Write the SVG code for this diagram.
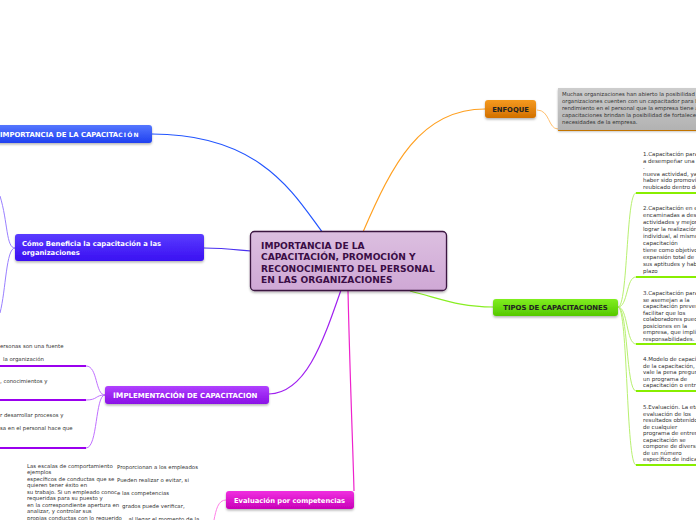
<svg xmlns="http://www.w3.org/2000/svg" width="696" height="520" viewBox="0 0 696 520">
<defs>
<style>
.nt{font-family:"DejaVu Sans",Verdana,sans-serif;font-weight:bold;}
.sm{font-family:"DejaVu Sans",Verdana,sans-serif;font-size:5.4px;fill:#333;}
.rc{font-size:5.5px;}
.c{fill:none;stroke-width:1.2;}
.ul{stroke-width:2.2;fill:none;}
</style>
<linearGradient id="gCenter" x1="0" y1="0" x2="0" y2="1"><stop offset="0" stop-color="#dcbfe0"/><stop offset="1" stop-color="#cfa8d5"/></linearGradient>
<linearGradient id="gBlue" x1="0" y1="0" x2="0" y2="1"><stop offset="0" stop-color="#5577ff"/><stop offset="1" stop-color="#1f40f0"/></linearGradient>
<linearGradient id="gIndigo" x1="0" y1="0" x2="0" y2="1"><stop offset="0" stop-color="#5a3cff"/><stop offset="1" stop-color="#3a10f2"/></linearGradient>
<linearGradient id="gPurple" x1="0" y1="0" x2="0" y2="1"><stop offset="0" stop-color="#b040ff"/><stop offset="1" stop-color="#8a10e6"/></linearGradient>
<linearGradient id="gMag" x1="0" y1="0" x2="0" y2="1"><stop offset="0" stop-color="#f030e0"/><stop offset="1" stop-color="#c800b8"/></linearGradient>
<linearGradient id="gOrange" x1="0" y1="0" x2="0" y2="1"><stop offset="0" stop-color="#f59a20"/><stop offset="1" stop-color="#d27000"/></linearGradient>
<linearGradient id="gGreen" x1="0" y1="0" x2="0" y2="1"><stop offset="0" stop-color="#80ee20"/><stop offset="1" stop-color="#55c800"/></linearGradient>
<linearGradient id="gGray" x1="0" y1="0" x2="0" y2="1"><stop offset="0" stop-color="#cdcdcd"/><stop offset="1" stop-color="#b2b2b2"/></linearGradient>
<filter id="sh" x="-10%" y="-20%" width="120%" height="160%"><feDropShadow dx="0" dy="1.5" stdDeviation="1" flood-color="#000" flood-opacity="0.3"/></filter>
</defs>
<rect width="696" height="520" fill="#ffffff"/>

<g id="connectors">
<path class="c" stroke="#2255ff" d="M152,134 C262,134 295,196 323,233"/>
<path class="c" stroke="#4a30f0" d="M204,248 C226,248 238,250 251,251"/>
<path class="c" stroke="#a020f0" d="M341,290 C322,345 305,393 269,394"/>
<path class="c" stroke="#ee22cc" d="M348,291 C350,380 353,450 354,491"/>
<path class="c" stroke="#ffa020" d="M363,232 C392,165 420,109 485,109"/>
<path class="c" stroke="#88ee22" d="M410,291 C445,300 460,307 493,307"/>
<path fill="none" stroke="#ffc070" stroke-width="1" d="M537,110 C550,110 548,129 558,129"/>
<path fill="none" stroke="#9a80ff" stroke-width="1" d="M15,248 C6,248 8,222 0,196 M15,248 C6,248 6,290 0,313"/>
<path fill="none" stroke="#c070ff" stroke-width="1" d="M105,395 C95,395 98,366 86,366 M105,395 C95,395 98,400 86,400 M105,395 C95,395 98,448 86,448"/>
<path fill="none" stroke="#ff80e8" stroke-width="1" d="M226,500 C218,500 216,510 214,520"/>
<path fill="none" stroke="#b8f070" stroke-width="1" d="M618,307 C628,307 626,193 636,193 M618,307 C628,307 626,277 636,277 M618,307 C628,307 626,344 636,344 M618,307 C628,307 626,391 636,391 M618,307 C628,307 626,465 636,465"/>
<path class="ul" stroke="#9a00ee" d="M0,366 H86 M0,400 H86 M0,448 H86"/>
<path class="ul" stroke="#88ee00" d="M636,193 H696 M636,277 H696 M636,344 H696 M636,391 H696 M636,465 H696"/>
<path class="ul" stroke="#ff9900" d="M558,130 H696"/>
</g>

<g id="center">
<rect x="250.5" y="231.5" width="196" height="59" rx="4" fill="url(#gCenter)" stroke="#3a1440" stroke-width="1.3" filter="url(#sh)"/>
<text class="nt" font-size="9.1" fill="#3a0d45"><tspan x="261" y="248.5">IMPORTANCIA DE LA</tspan><tspan x="261" y="260">CAPACITACIÓN, PROMOCIÓN Y</tspan><tspan x="261" y="271.5">RECONOCIMIENTO DEL PERSONAL</tspan><tspan x="261" y="283">EN LAS ORGANIZACIONES</tspan></text>
</g>

<g id="importancia">
<rect x="-5" y="125" width="157" height="18" rx="3" fill="url(#gBlue)" filter="url(#sh)"/>
<text class="nt" x="0" y="136.5" font-size="6.9" fill="#fff">IMPORTANCIA DE LA CAPACITA<tspan font-size="6" letter-spacing="1.2">CIÓN</tspan></text>
</g>

<g id="beneficia">
<rect x="15" y="234" width="189" height="27" rx="3" fill="url(#gIndigo)" filter="url(#sh)"/>
<text class="nt" font-size="6.8" fill="#fff"><tspan x="22" y="246">Cómo Beneficia la capacitación a las</tspan><tspan x="22" y="254.5">organizaciones</tspan></text>
</g>

<g id="implementacion">
<rect x="105" y="386" width="164" height="18" rx="3" fill="url(#gPurple)" filter="url(#sh)"/>
<text class="nt" x="113" y="397.5" font-size="7" fill="#fff"><tspan font-size="7.6">IM</tspan>PLEMENTACIÓN DE CAPACITACION</text>
</g>
<g id="implementacion-notas">
<text class="sm"><tspan x="0" y="348">ersonas son una fuente</tspan><tspan x="3" y="360.5">la organización</tspan></text>
<text class="sm" x="0" y="382.5">, conocimientos y</text>
<text class="sm"><tspan x="0" y="416.5">r desarrollar procesos y</tspan><tspan x="0" y="429.5">sa en el personal hace que</tspan></text>
</g>

<g id="evaluacion">
<rect x="226" y="491" width="128" height="18" rx="3" fill="url(#gMag)" filter="url(#sh)"/>
<text class="nt" x="234" y="502.5" font-size="6.75" fill="#fff">Evaluación por competencias</text>
</g>
<g id="evaluacion-notas">
<text class="sm" font-size="5.6"><tspan x="27" y="467.5">Las escalas de comportamiento</tspan><tspan x="27" y="474">ejemplos</tspan><tspan x="27" y="480.5">específicos de conductas que se</tspan><tspan x="27" y="487">quieren tener éxito en</tspan><tspan x="27" y="493.5">su trabajo. Si un empleado conoc</tspan><tspan x="27" y="500">requeridas para su puesto y</tspan><tspan x="27" y="506.5">en la correspondiente apertura en</tspan><tspan x="27" y="513">analizar, y controlar sus</tspan><tspan x="27" y="519.5">propias conductas con lo requerido</tspan></text>
<text class="sm" font-size="5.6"><tspan x="117" y="468.5">Proporcionan a los empleados</tspan><tspan x="117" y="481.5">Pueden realizar o evitar, si</tspan><tspan x="117" y="494.5">e las competencias</tspan><tspan x="122" y="507.5">grados puede verificar,</tspan><tspan x="125" y="520.5">, al llegar el momento de la</tspan></text>
</g>

<g id="enfoque">
<rect x="485" y="100" width="51" height="18" rx="3" fill="url(#gOrange)" filter="url(#sh)"/>
<text class="nt" x="510.5" y="111.5" font-size="6.8" fill="#222" text-anchor="middle">ENFOQUE</text>
</g>
<g id="enfoque-nota">
<rect x="558" y="88" width="140" height="42" fill="url(#gGray)" filter="url(#sh)"/>
<text class="sm" font-size="4.75" fill="#222"><tspan x="562" y="95.5">Muchas organizaciones han abierto la posibilidad c</tspan><tspan x="562" y="102.5">organizaciones cuenten con un capacitador para b</tspan><tspan x="562" y="109.5">rendimiento en el personal que la empresa tiene a</tspan><tspan x="562" y="116.5">capacitaciones brindan la posibilidad de fortalecer</tspan><tspan x="562" y="123.5">necesidades de la empresa.</tspan></text>
</g>

<g id="tipos">
<rect x="493" y="299" width="125" height="17" rx="3" fill="url(#gGreen)" filter="url(#sh)"/>
<text class="nt" x="555.5" y="310" font-size="6.9" fill="#222" text-anchor="middle">TIPOS DE CAPACITACIONES</text>
</g>
<g id="tipos-notas">
<text class="sm rc"><tspan x="643" y="156">1.Capacitación para</tspan><tspan x="643" y="162.5">a desempeñar una</tspan><tspan x="643" y="169">.</tspan><tspan x="643" y="175.5">nueva actividad, ya</tspan><tspan x="643" y="182">haber sido promovi</tspan><tspan x="643" y="188.5">reubicado dentro de</tspan></text>
<text class="sm rc"><tspan x="643" y="210">2.Capacitación en el</tspan><tspan x="643" y="217">encaminadas a desa</tspan><tspan x="643" y="224">actividades y mejora</tspan><tspan x="643" y="231">lograr la realización</tspan><tspan x="643" y="238">individual, al mismo</tspan><tspan x="643" y="245">capacitación</tspan><tspan x="643" y="252">tiene como objetivo</tspan><tspan x="643" y="259">expansión total de</tspan><tspan x="643" y="266">sus aptitudes y habil</tspan><tspan x="643" y="273">plazo</tspan></text>
<text class="sm rc"><tspan x="643" y="295">3.Capacitación para</tspan><tspan x="643" y="301.5">se asemejan a la</tspan><tspan x="643" y="308">capacitación preven</tspan><tspan x="643" y="314.5">facilitar que los</tspan><tspan x="643" y="321">colaboradores pued</tspan><tspan x="643" y="327.5">posiciones en la</tspan><tspan x="643" y="334">empresa, que impli</tspan><tspan x="643" y="340.5">responsabilidades.</tspan></text>
<text class="sm rc"><tspan x="643" y="361">4.Modelo de capacit</tspan><tspan x="643" y="367.5">de la capacitación,</tspan><tspan x="643" y="374">vale la pena pregun</tspan><tspan x="643" y="380.5">un programa de</tspan><tspan x="643" y="387">capacitación o entr</tspan></text>
<text class="sm rc"><tspan x="643" y="409">5.Evaluación. La eta</tspan><tspan x="643" y="415.5">evaluación de los</tspan><tspan x="643" y="422">resultados obtenido</tspan><tspan x="643" y="428.5">de cualquier</tspan><tspan x="643" y="435">programa de entren</tspan><tspan x="643" y="441.5">capacitación se</tspan><tspan x="643" y="448">compone de diversa</tspan><tspan x="643" y="454.5">de un número</tspan><tspan x="643" y="461">específico de indica</tspan></text>
</g>
</svg>
